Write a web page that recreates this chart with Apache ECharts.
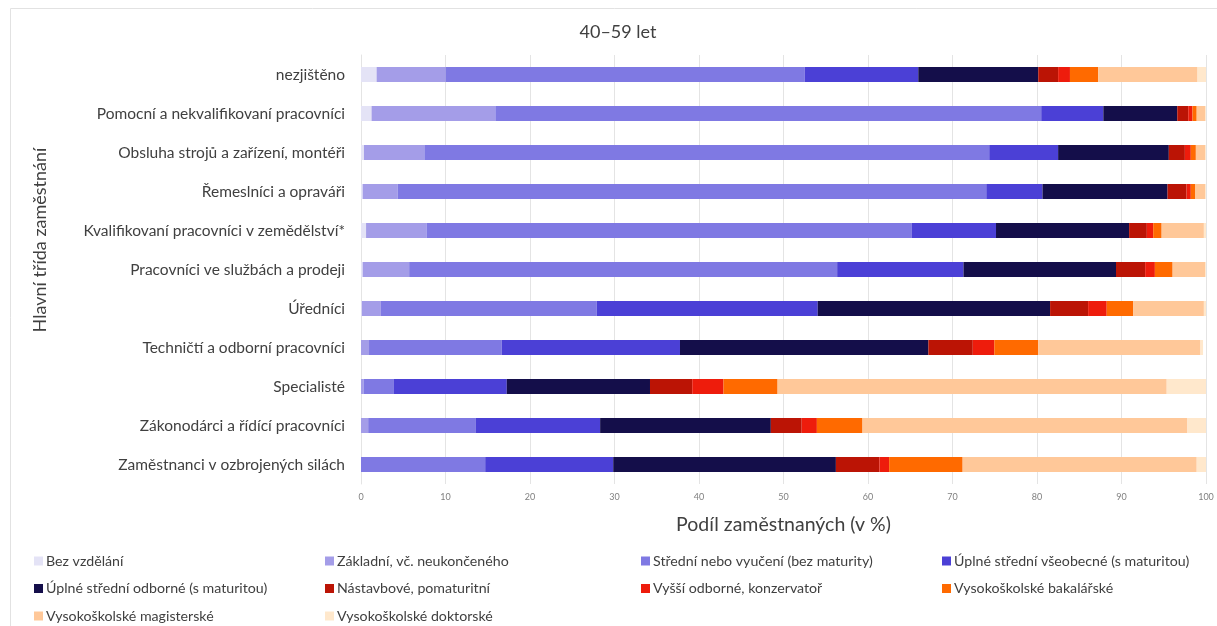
<!DOCTYPE html>
<html>
<head>
<meta charset="utf-8">
<script src="https://cdn.jsdelivr.net/npm/echarts@6/dist/echarts.min.js"></script>
<style>html,body{margin:0;padding:0;background:#fff}#c{width:1217px;height:626px}</style>
</head>
<body>
<div id="c"></div>
<script>
const categories = [
  "nezjištěno",
  "Pomocní a nekvalifikovaní pracovníci",
  "Obsluha strojů a zařízení, montéři",
  "Řemeslníci a opraváři",
  "Kvalifikovaní pracovníci v zemědělství*",
  "Pracovníci ve službách a prodeji",
  "Úředníci",
  "Techničtí a odborní pracovníci",
  "Specialisté",
  "Zákonodárci a řídící pracovníci",
  "Zaměstnanci v ozbrojených silách"
];
const seriesNames = [
  "Bez vzdělání",
  "Základní, vč. neukončeného",
  "Střední nebo vyučení (bez maturity)",
  "Úplné střední všeobecné (s maturitou)",
  "Úplné střední odborné (s maturitou)",
  "Nástavbové, pomaturitní",
  "Vyšší odborné, konzervatoř",
  "Vysokoškolské bakalářské",
  "Vysokoškolské magisterské",
  "Vysokoškolské doktorské"
];
const bezVzdelani   = [1.85, 1.25, 0.35, 0.2, 0.6, 0.2, 0.1, 0, 0, 0, 0];
const zakladni      = [8.15, 14.65, 7.15, 4.15, 7.15, 5.5, 2.25, 0.95, 0.3, 0.85, 0];
const stredni       = [42.5, 64.6, 66.85, 69.65, 57.4, 50.65, 25.55, 15.7, 3.6, 12.7, 14.7];
const vseobecne     = [13.45, 7.35, 8.15, 6.65, 10.0, 14.95, 26.15, 21.1, 13.35, 14.75, 15.15];
const odborne       = [14.2, 8.75, 13.1, 14.8, 15.75, 18.05, 27.5, 29.4, 16.95, 20.2, 26.35];
const nastavbove    = [2.35, 1.3, 1.9, 2.25, 2.1, 3.45, 4.5, 5.25, 5.0, 3.65, 5.15];
const vyssiOdborne  = [1.4, 0.5, 0.7, 0.5, 0.75, 1.15, 2.2, 2.55, 3.7, 1.8, 1.15];
const bakalarske    = [3.35, 0.5, 0.6, 0.5, 1.0, 2.1, 3.15, 5.2, 6.4, 5.4, 8.7];
const magisterske   = [11.75, 1.0, 1.1, 1.2, 5.0, 3.85, 8.35, 19.2, 46.05, 38.45, 27.7];
const doktorske     = [1.0, 0.1, 0.1, 0.1, 0.25, 0.1, 0.25, 0.3, 4.65, 2.2, 1.1];
const xTicks = [0, 10, 20, 30, 40, 50, 60, 70, 80, 90, 100];
const yAxisTitle = "Hlavní třída zaměstnání";

const values = [bezVzdelani, zakladni, stredni, vseobecne, odborne, nastavbove, vyssiOdborne, bakalarske, magisterske, doktorske];
const colors = ["#E4E3F6", "#A49DE8", "#7F79E3", "#4B40D6", "#140E4A", "#BB1405", "#EE1C0C", "#FF6A00", "#FFC899", "#FFE8CC"];

const FONT = "Lato";
const chart = echarts.init(document.getElementById('c'));

function legendCol(left, names) {
  return {
    orient: 'vertical', left: left, top: 553, height: 90, padding: 0,
    itemWidth: 9, itemHeight: 9, itemGap: 11.5,
    icon: 'rect', data: names,
    textStyle: { fontFamily: FONT, fontSize: 14.2, color: '#404040', lineHeight: 16, padding: [0,0,0,-2] }
  };
}

chart.setOption({
  animation: false,
  textStyle: { fontFamily: FONT },
  graphic: [{
    type: 'rect', shape: { x: 10.5, y: 8.5, width: 1220, height: 640 },
    style: { fill: 'none', stroke: '#e2e2e2', lineWidth: 1 }, silent: true
  }, {
    type: 'text', x: 40, y: 240, rotation: Math.PI / 2, silent: true,
    style: { text: yAxisTitle, fontFamily: FONT, fontSize: 18, fill: '#404040',
      textAlign: 'center', textVerticalAlign: 'middle' }
  }],
  title: {
    text: '40–59 let', left: 613, top: 18, textAlign: 'center',
    textStyle: { fontFamily: FONT, fontSize: 18, fontWeight: 'normal', color: '#404040' }
  },
  legend: [
    legendCol(34, [seriesNames[0], seriesNames[4], seriesNames[8]]),
    legendCol(325, [seriesNames[1], seriesNames[5], seriesNames[9]]),
    legendCol(641, [seriesNames[2], seriesNames[6]]),
    legendCol(942, [seriesNames[3], seriesNames[7]])
  ],
  grid: { left: 361, right: 11, top: 55, height: 429, containLabel: false },
  xAxis: {
    type: 'value', min: 0, max: 100, interval: 10,
    name: 'Podíl zaměstnaných (v %)', nameLocation: 'middle', nameGap: 31,
    nameTextStyle: { fontFamily: FONT, fontSize: 19.5, color: '#404040' },
    axisLine: { show: false }, axisTick: { show: false },
    axisLabel: { fontFamily: FONT, fontSize: 9, color: '#808080', margin: 9,
      formatter: v => xTicks.includes(v) ? String(v) : '' },
    splitLine: { show: true, lineStyle: { color: '#e4e4e4', width: 1 } }
  },
  yAxis: {
    type: 'category', data: categories, inverse: true,
    axisLine: { show: true, lineStyle: { color: '#e4e4e4' } }, axisTick: { show: false },
    axisLabel: { fontFamily: FONT, fontSize: 15.5, color: '#404040', margin: 16 }
  },
  series: seriesNames.map((n, i) => ({
    name: n, type: 'bar', stack: 'total', barWidth: 15,
    itemStyle: { color: colors[i] },
    data: values[i]
  }))
});
</script>
</body>
</html>
